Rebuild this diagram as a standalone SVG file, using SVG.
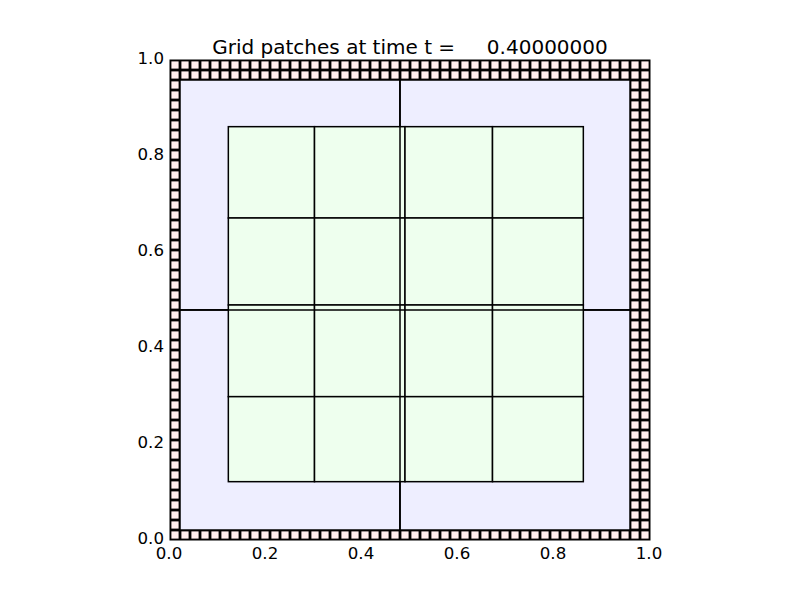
<svg xmlns="http://www.w3.org/2000/svg" width="800" height="600" viewBox="0 0 800 600">
  <style>
    text { font-family: "DejaVu Sans", "Liberation Sans", sans-serif; fill: #000; }
    .tick { font-size: 16.67px; }
    .title { font-size: 20px; }
    .lvl2 { fill: #eeeeff; stroke: #000; stroke-width: 1.5; }
    .lvl3 { fill: #eeffee; stroke: #000; stroke-width: 1.5; }
    .edge2 { stroke: #000; stroke-width: 1.5; fill: none; }
  </style>
  <defs>
    <pattern id="cells" patternUnits="userSpaceOnUse" x="165" y="65" width="10" height="10">
      <rect x="0" y="0" width="10" height="10" fill="#ffeeee"/>
      <rect x="3.6" y="0" width="2.8" height="10" fill="#000"/>
      <rect x="0" y="3.6" width="10" height="2.8" fill="#000"/>
    </pattern>
    <clipPath id="axclip">
      <rect x="170" y="60" width="480" height="480"/>
    </clipPath>
  </defs>
  <rect x="0" y="0" width="800" height="600" fill="#ffffff"/>

  <g id="plot" clip-path="url(#axclip)">
    <g id="level1">
      <rect x="170" y="60" width="480" height="480" fill="url(#cells)"/>
    </g>
    <g id="level2">
      <rect class="lvl2" x="180" y="80" width="220" height="230"/>
      <rect class="lvl2" x="400" y="80" width="230" height="230"/>
      <rect class="lvl2" x="180" y="310" width="220" height="220"/>
      <rect class="lvl2" x="400" y="310" width="230" height="220"/>
    </g>
    <g id="level3">
      <rect class="lvl3" x="228.33" y="126.67" width="86.17" height="91.33"/>
      <rect class="lvl3" x="314.5" y="126.67" width="90.5" height="91.33"/>
      <rect class="lvl3" x="405" y="126.67" width="87.5" height="91.33"/>
      <rect class="lvl3" x="492.5" y="126.67" width="90.83" height="91.33"/>

      <rect class="lvl3" x="228.33" y="218" width="86.17" height="87"/>
      <rect class="lvl3" x="314.5" y="218" width="90.5" height="87"/>
      <rect class="lvl3" x="405" y="218" width="87.5" height="87"/>
      <rect class="lvl3" x="492.5" y="218" width="90.83" height="87"/>

      <rect class="lvl3" x="228.33" y="305" width="86.17" height="91.67"/>
      <rect class="lvl3" x="314.5" y="305" width="90.5" height="91.67"/>
      <rect class="lvl3" x="405" y="305" width="87.5" height="91.67"/>
      <rect class="lvl3" x="492.5" y="305" width="90.83" height="91.67"/>

      <rect class="lvl3" x="228.33" y="396.67" width="86.17" height="85"/>
      <rect class="lvl3" x="314.5" y="396.67" width="90.5" height="85"/>
      <rect class="lvl3" x="405" y="396.67" width="87.5" height="85"/>
      <rect class="lvl3" x="492.5" y="396.67" width="90.83" height="85"/>
    </g>
    <g id="level2-edges">
      <line class="edge2" x1="400" y1="80" x2="400" y2="530"/>
      <line class="edge2" x1="180" y1="310" x2="630" y2="310"/>
    </g>
  </g>

  <g id="axes">
    <rect x="170" y="60" width="480" height="480" fill="none" stroke="#000" stroke-width="1"/>
    <g id="xticks" text-anchor="middle">
      <text class="tick" x="169" y="559">0.0</text>
      <text class="tick" x="265" y="559">0.2</text>
      <text class="tick" x="361" y="559">0.4</text>
      <text class="tick" x="457" y="559">0.6</text>
      <text class="tick" x="553" y="559">0.8</text>
      <text class="tick" x="649" y="559">1.0</text>
    </g>
    <g id="yticks" text-anchor="end">
      <text class="tick" x="164" y="544">0.0</text>
      <text class="tick" x="164" y="448">0.2</text>
      <text class="tick" x="164" y="352">0.4</text>
      <text class="tick" x="164" y="256">0.6</text>
      <text class="tick" x="164" y="160">0.8</text>
      <text class="tick" x="164" y="64">1.0</text>
    </g>
    <text class="title" x="410" y="54" text-anchor="middle" xml:space="preserve">Grid patches at time t =     0.40000000</text>
  </g>
</svg>
